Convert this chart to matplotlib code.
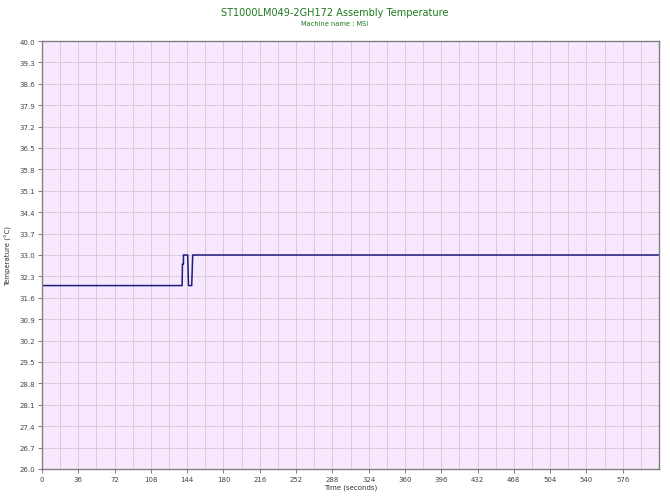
import matplotlib
matplotlib.use("Agg")
import matplotlib.pyplot as plt
import numpy as np

title = "ST1000LM049-2GH172 Assembly Temperature"
subtitle = "Machine name : MSI"
x_label = "Time (seconds)"
y_label = "Temperature (°C)"

times = [0, 139.0, 139.3, 140.3, 140.3, 144.5, 145.3, 148.5, 149.5, 612]
temps = [32.0, 32.0, 32.7, 32.7, 33.0, 33.0, 32.0, 32.0, 33.0, 33.0]

x_ticks = list(range(0, 577, 36))
x_minor = list(range(0, 613, 18))
y_ticks = [26.0, 26.7, 27.4, 28.1, 28.8, 29.5, 30.2, 30.9, 31.6, 32.3, 33.0,
           33.7, 34.4, 35.1, 35.8, 36.5, 37.2, 37.9, 38.6, 39.3, 40.0]

fig = plt.figure(figsize=(6.7, 5.02), dpi=100)
ax = fig.add_axes([42/670, 1-470/502, 617/670, 428/502])
ax.set_facecolor("#F7E8FD")

ax.set_xlim(0, 612)
ax.set_ylim(26.0, 40.0)
ax.set_xticks(x_ticks)
ax.set_xticks(x_minor, minor=True)
ax.set_yticks(y_ticks)
ax.set_yticklabels([f"{v:.1f}" for v in y_ticks])
ax.grid(True, which="both", color="#D6C4D8", linewidth=0.6)
ax.set_axisbelow(True)
ax.tick_params(axis="both", which="major", labelsize=5, colors="#666666",
               length=3, width=0.6, labelcolor="#444444", pad=2)
ax.tick_params(axis="both", which="minor", length=0)
for s in ax.spines.values():
    s.set_color("#808080")
    s.set_linewidth(1.0)

ax.plot(times, temps, color="#1C1C7A", linewidth=1.1)

ax.set_xlabel(x_label, fontsize=5, color="#333333", labelpad=1)
ax.set_ylabel(y_label, fontsize=5, color="#333333")
ax.yaxis.set_label_coords(-0.048, 0.5)

fig.text(0.5, 1-13/502, title, ha="center", va="center", fontsize=7,
         color="#1E7A1E")
fig.text(0.5, 1-24/502, subtitle, ha="center", va="center", fontsize=4.8,
         color="#1E7A1E")

fig.savefig("out.png", dpi=100)
